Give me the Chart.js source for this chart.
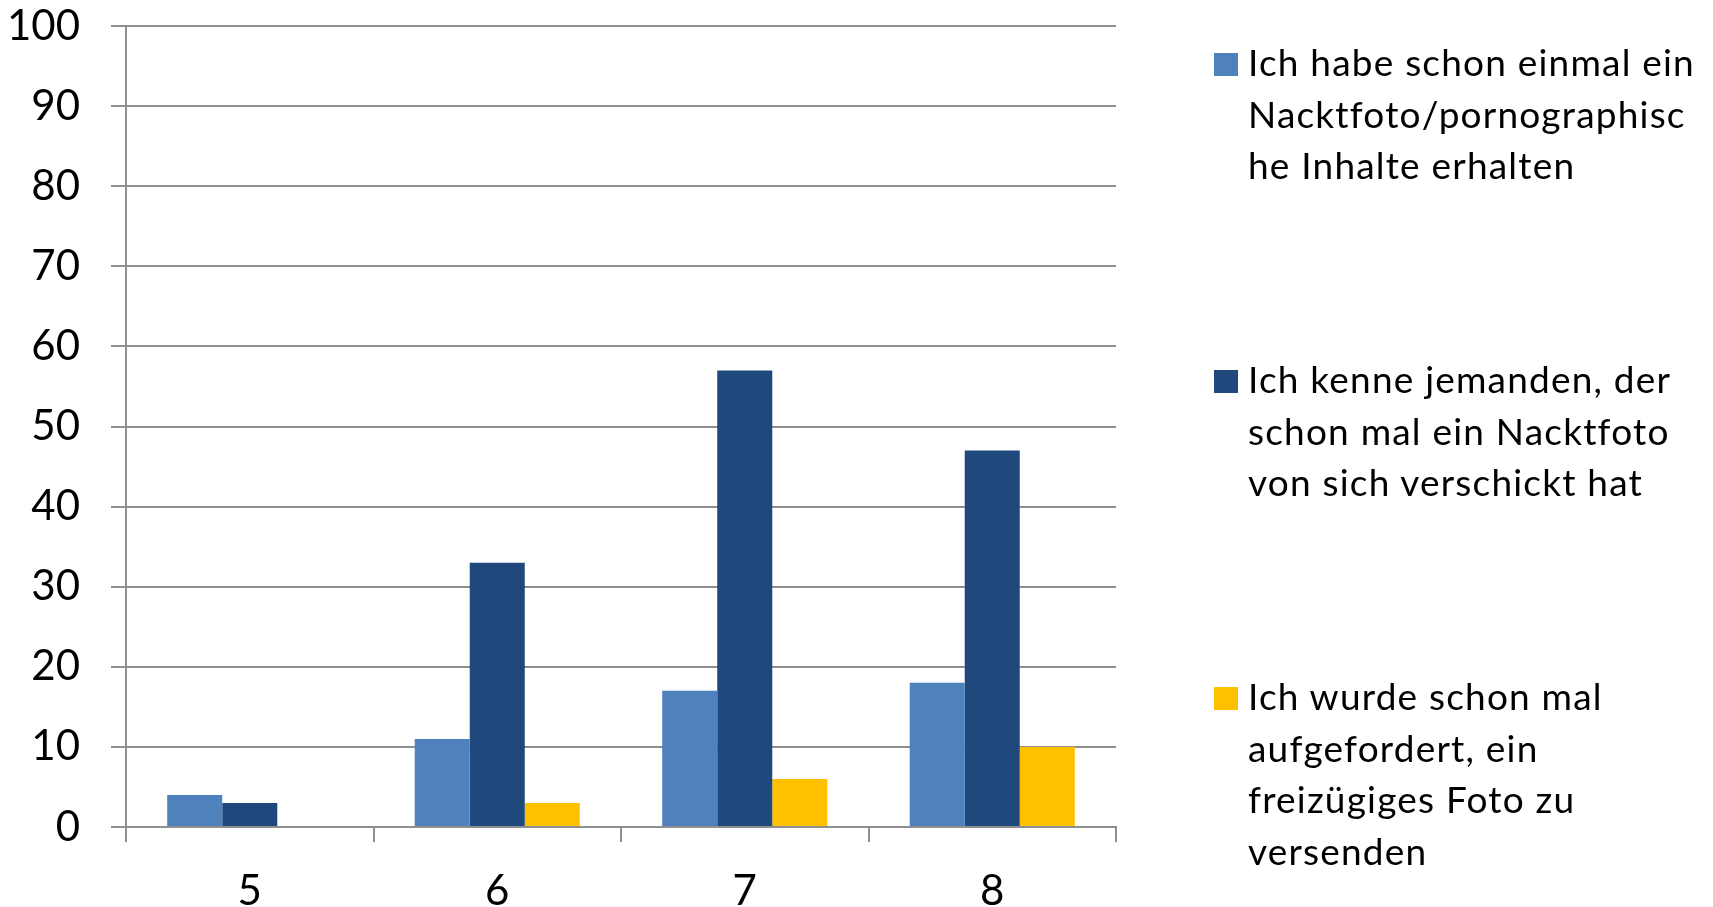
<!DOCTYPE html>
<html lang="de">
<head>
<meta charset="utf-8">
<title>Sexting – Klassenstufen 5 bis 8</title>
<script src="https://cdn.jsdelivr.net/npm/chart.js@4.4.1/dist/chart.umd.min.js"></script>
<style>
    html, body { margin: 0; padding: 0; background: #fff; }
    #wrap { position: relative; width: 1713px; height: 907px; overflow: hidden; }
    #chart { position: absolute; left: 0; top: 0; }
    .legend-item { position: absolute; left: 1214px; }
    .legend-box { position: absolute; left: 0; width: 24px; height: 23px; }
    .legend-text {
        position: absolute; left: 34px; top: 0;
        font-family: Lato, "Open Sans", sans-serif; font-size: 37px; line-height: 51.5px;
        letter-spacing: 1.2px;
        color: #000; white-space: nowrap;
    }
</style>
</head>
<body>
<div id="wrap">
    <canvas id="chart" width="1713" height="907"></canvas>
    <div id="legend"></div>
</div>
<script>
// Daten: Klassenstufen und Anteile in Prozent
const categories = ['5', '6', '7', '8'];
const receivedNude = [4, 11, 17, 18];
const knowSomeone = [3, 33, 57, 47];
const askedForPhoto = [0, 3, 6, 10];

const seriesLabels = [
    ['Ich habe schon einmal ein', 'Nacktfoto/pornographisc', 'he Inhalte erhalten'],
    ['Ich kenne jemanden, der', 'schon mal ein Nacktfoto', 'von sich verschickt hat'],
    ['Ich wurde schon mal', 'aufgefordert, ein', 'freizügiges Foto zu', 'versenden']
];

const yMin = 0;
const yMax = 100;
const yStep = 10;

// Farben (Office-Palette)
const COLORS = ['#4F81BD', '#1F497D', '#FFC000'];
const GRID = '#8f8f8f';

const seriesData = [receivedNude, knowSomeone, askedForPhoto];

const chart = new Chart(document.getElementById('chart'), {
    type: 'bar',
    data: {
        labels: categories,
        datasets: seriesData.map((data, i) => ({
            label: seriesLabels[i].join(' '),
            data: data,
            backgroundColor: COLORS[i],
            borderWidth: 0,
            categoryPercentage: 0.667,
            barPercentage: 1
        }))
    },
    options: {
        responsive: false,
        animation: false,
        devicePixelRatio: 1,
        layout: {
            autoPadding: false,
            padding: { left: 0, top: 26, right: 597, bottom: 0 }
        },
        plugins: {
            legend: { display: false },
            tooltip: { enabled: false }
        },
        scales: {
            x: {
                afterFit: function(scale) {
                    scale.height = 80;
                    scale.paddingLeft = 0;
                    scale.paddingRight = 0;
                },
                grid: {
                    offset: true,
                    drawOnChartArea: false,
                    drawTicks: true,
                    tickLength: 15,
                    color: GRID,
                    lineWidth: 2
                },
                border: { color: GRID, width: 2 },
                ticks: {
                    color: '#000',
                    padding: 24,
                    font: { family: 'Lato', size: 42 }
                }
            },
            y: {
                min: yMin,
                max: yMax,
                afterFit: function(scale) {
                    scale.width = 126;
                    scale.paddingTop = 0;
                    scale.paddingBottom = 0;
                },
                grid: {
                    color: GRID,
                    lineWidth: 2,
                    drawTicks: true,
                    tickLength: 15
                },
                border: { color: GRID, width: 2 },
                ticks: {
                    stepSize: yStep,
                    color: '#000',
                    padding: 31,
                    font: { family: 'Lato', size: 42 }
                }
            }
        }
    }
});

// Legende rechts (Zeilenumbrüche wie im Original)
const legendTops = [36, 353, 670];
const legend = document.getElementById('legend');
seriesLabels.forEach((lines, i) => {
    const item = document.createElement('div');
    item.className = 'legend-item';
    item.style.top = legendTops[i] + 'px';

    const box = document.createElement('div');
    box.className = 'legend-box';
    box.style.background = COLORS[i];
    box.style.top = '17px';

    const text = document.createElement('div');
    text.className = 'legend-text';
    lines.forEach((line, j) => {
        if (j > 0) text.appendChild(document.createElement('br'));
        text.appendChild(document.createTextNode(line));
    });

    item.appendChild(box);
    item.appendChild(text);
    legend.appendChild(item);
});
</script>
</body>
</html>
